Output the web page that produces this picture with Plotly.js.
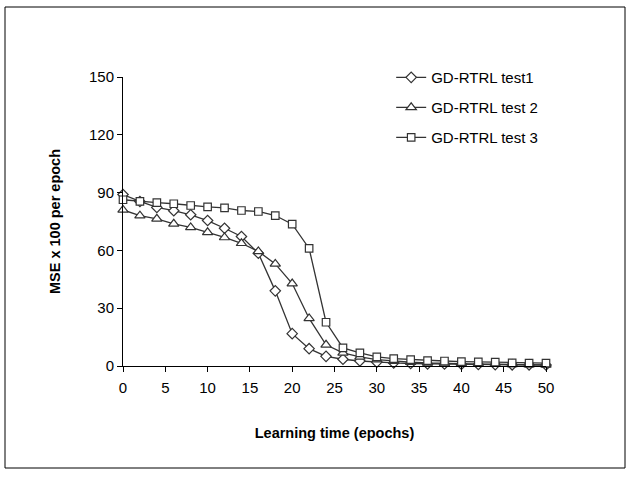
<!DOCTYPE html>
<html>
<head>
<meta charset="utf-8">
<script src="https://cdn.plot.ly/plotly-3.0.1.min.js"></script>
<style>html,body{margin:0;padding:0;background:#fff;}#chart{width:631px;height:478px;}</style>
</head>
<body>
<div id="chart"></div>
<script>
const epochs = [0,2,4,6,8,10,12,14,16,18,20,22,24,26,28,30,32,34,36,38,40,42,44,46,48,50];
const test1 = [89,85.4,82.3,80.6,78.5,75.5,71.5,67.2,58.5,39,16.8,9,5,3.5,2.6,2,1.6,1.3,1.1,1,0.9,0.8,0.7,0.6,0.6,0.5];
const test2 = [81,78,76.4,73.8,71.9,69.4,66.7,63.7,59.5,53,42.8,24.7,11,6.8,4.7,3.3,2.5,2,1.6,1.3,1.1,1,0.9,0.8,0.7,0.6];
const test3 = [86.3,85.4,84.8,84.2,83.3,82.6,82.1,80.7,80.2,78.1,73.6,61,22.7,9.4,6.8,4.7,3.8,3.3,2.8,2.6,2.3,2.1,2,1.6,1.5,1.5];
const names = ["GD-RTRL test1","GD-RTRL test 2","GD-RTRL test 3"];
const xTicks = [0,5,10,15,20,25,30,35,40,45,50];
const yTicks = [0,30,60,90,120,150];

const lineColor = "#333333";
function tr(y, name, sym, size, grp){
  return {x: epochs, y: y, name: name, type: "scatter", mode: "lines+markers",
    legendgroup: grp, cliponaxis: false,
    line: {color: lineColor, width: 1.3},
    marker: {symbol: sym, size: size, color: "#ffffff", line: {color: lineColor, width: 1.2}}};
}
const data = [
  tr(test1, names[0], "diamond", 8, "a"),
  tr(test2, names[1], "triangle-up", 9, "b"),
  tr(test3, names[2], "square", 7.5, "c")
];

const layout = {
  width: 631, height: 478,
  margin: {l: 123, r: 85, t: 77, b: 112},
  paper_bgcolor: "#ffffff", plot_bgcolor: "#ffffff",
  font: {family: "Liberation Sans, Arial, sans-serif", size: 15, color: "#000"},
  showlegend: true,
  legend: {x: 0.634, y: 1.055, xanchor: "left", yanchor: "top", tracegroupgap: 7.5,
    font: {size: 15}, bgcolor: "rgba(0,0,0,0)"},
  xaxis: {range: [0, 50], tickvals: xTicks, ticks: "outside", ticklen: 5, tickcolor: "#000",
    showline: true, linecolor: "#000", linewidth: 1, showgrid: false, zeroline: false,
    tickfont: {size: 15}, ticklabelstandoff: 3,
    title: {text: "<b>Learning time (epochs)</b>", font: {size: 14.5}, standoff: 32}},
  yaxis: {range: [0, 150], tickvals: yTicks, ticks: "outside", ticklen: 5, tickcolor: "#000",
    showline: true, linecolor: "#000", linewidth: 1, showgrid: false, zeroline: false,
    tickfont: {size: 15},
    title: {text: "<b>MSE x 100 per epoch</b>", font: {size: 14.5}, standoff: 24}},
  shapes: [{type: "rect", xref: "paper", yref: "paper",
    x0: (5-123)/423, x1: (625-123)/423, y0: (366-468)/289, y1: (366-7)/289,
    line: {color: "#000", width: 1}, fillcolor: "rgba(0,0,0,0)"}]
};
Plotly.newPlot("chart", data, layout, {displayModeBar: false, staticPlot: true});
</script>
</body>
</html>
